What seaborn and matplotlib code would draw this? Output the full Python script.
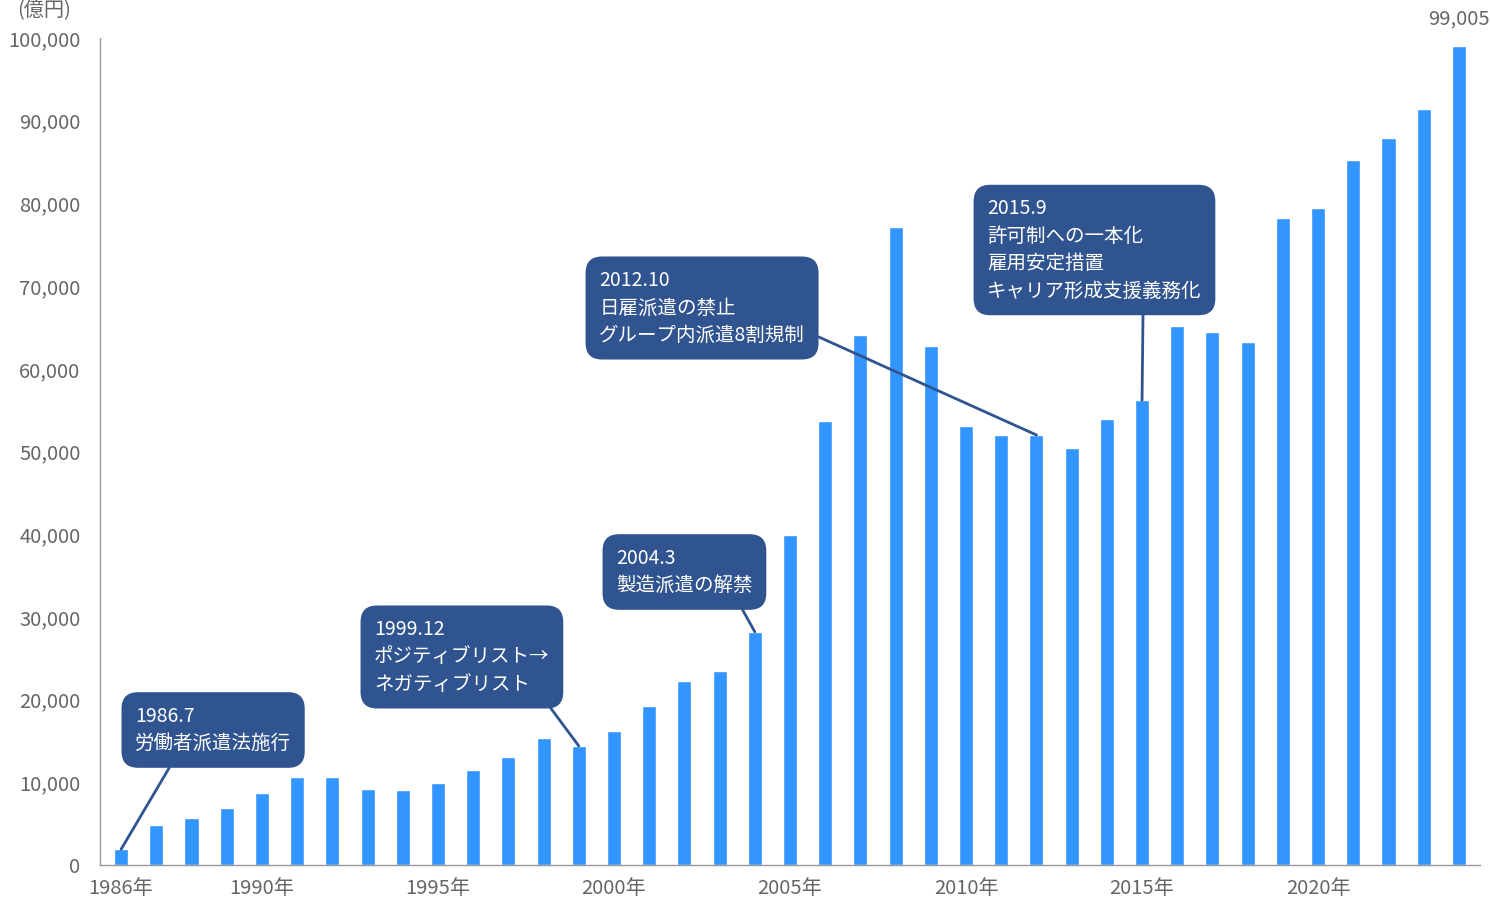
import numpy as np
import pandas as pd
import seaborn as sns
import matplotlib.pyplot as plt
from matplotlib.ticker import FuncFormatter

# 労働者派遣事業の売上高 (億円), 1986-2024
years = list(range(1986, 2025))
sales = [1900, 4800, 5700, 6900, 8700, 10700, 10700, 9200, 9100, 9900,
         11500, 13100, 15400, 14400, 16200, 19200, 22200, 23400, 28200, 39900,
         53700, 64100, 77200, 62700, 53100, 52000, 52000, 50400, 53900, 56200,
         65200, 64500, 63200, 78200, 79500, 85200, 87900, 91400, 99005]
tick_years = [1986, 1990, 1995, 2000, 2005, 2010, 2015, 2020]

# annotations: (year of the bar, text)
notes = [
    (1986, "1986.7\n労働者派遣法施行"),
    (1999, "1999.12\nポジティブリスト→\nネガティブリスト"),
    (2004, "2004.3\n製造派遣の解禁"),
    (2012, "2012.10\n日雇派遣の禁止\nグループ内派遣8割規制"),
    (2015, "2015.9\n許可制への一本化\n雇用安定措置\nキャリア形成支援義務化"),
]

BAR = "#3395FF"
BOX = "#30548F"
GREY = "#666666"

sns.set_style("white")
plt.rcParams['font.family'] = ['Noto Sans CJK JP', 'DejaVu Sans']

df = pd.DataFrame({"year": [str(y) for y in years], "sales": sales})

fig = plt.figure(figsize=(14.9, 8.98), dpi=100)
ax = fig.add_axes([100 / 1490, 33 / 898, 1380 / 1490, 827 / 898])

sns.barplot(data=df, x="year", y="sales", color=BAR, saturation=1, width=0.4, ax=ax)

ax.set_xlim(-0.6, 38.6)
ax.set_ylim(0, 100000)
ax.set_yticks(np.arange(0, 100001, 10000))
ax.yaxis.set_major_formatter(FuncFormatter(lambda v, p: f"{int(v):,}"))
ax.set_xticks([years.index(y) for y in tick_years])
ax.set_xticklabels([f"{y}年" for y in tick_years])
ax.set_xlabel("")
ax.set_ylabel("")
ax.tick_params(axis="y", length=5, width=1, color="#999999", labelsize=14.5, labelcolor=GREY, pad=9)
ax.tick_params(axis="x", length=0, labelsize=14.5, labelcolor=GREY, pad=9)
for s in ["top", "right"]:
    ax.spines[s].set_visible(False)
for s in ["left", "bottom"]:
    ax.spines[s].set_color("#999999")
    ax.spines[s].set_linewidth(1)

# last value label
ax.text(len(years) - 1, sales[-1] + 2000, f"{sales[-1]:,}", ha="center", va="bottom",
        fontsize=14.5, color=GREY, clip_on=False)

# unit label
fig.text(44 / 1490, 1 - 11 / 898, "(億円)", ha="center", va="center", fontsize=14.5, color=GREY)


def px_to_data(px, py):
    return (px - 121) / 35.2, (865 - py) * 100000 / 827


# text placement (left x, centre y in pixels) and where the leader leaves the box
layout = {
    1986: ((135, 730), (0.27, 0.0)),
    1999: ((374, 657), (0.95, 0.0)),
    2004: ((616, 572), (0.87, 0.0)),
    2012: ((599, 308), (1.0, 0.2)),
    2015: ((987, 250), (0.727, 0.0)),
}

for year, text in notes:
    i = years.index(year)
    (tx, ty), rel = layout[year]
    xt, yt = px_to_data(tx, ty)
    ax.annotate(text, xy=(i, sales[i]), xytext=(xt, yt), textcoords="data",
                ha="left", va="center", fontsize=14, color="white", linespacing=1.4,
                bbox=dict(boxstyle="round,pad=0.7,rounding_size=0.85", fc=BOX, ec="none"),
                arrowprops=dict(arrowstyle="-", color=BOX, lw=2, relpos=rel,
                                shrinkA=0, shrinkB=0),
                zorder=5)

fig.savefig("out.png", dpi=100)
